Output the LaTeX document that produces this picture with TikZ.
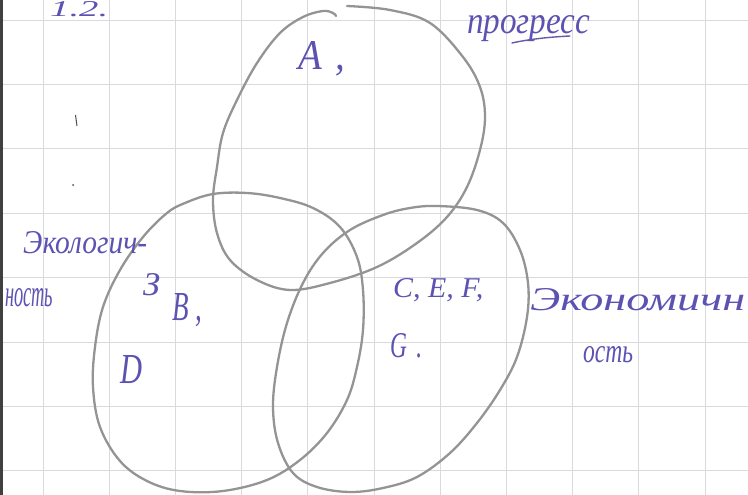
\documentclass[tikz,border=0pt]{standalone}
\usepackage{graphicx}
\usepackage{fontspec}
\setmainfont{Liberation Serif}
\definecolor{ink}{RGB}{92,82,178}
\definecolor{pencil}{RGB}{148,148,148}
\definecolor{gridc}{RGB}{218,218,222}
\newcommand{\ink}[3]{\resizebox{#1pt}{#2pt}{\itshape #3}}
\tikzset{
  hand/.style={anchor=base west, inner sep=0pt, text=ink},
  setline/.style={draw=pencil, line width=2.3pt, line cap=round, line join=round},
  gridline/.style={draw=gridc, line width=0.8pt}
}
\begin{document}
\begin{tikzpicture}[x=1pt,y=-1pt]
\useasboundingbox (0,0) rectangle (748,495);
\fill[white] (0,0) rectangle (748,495);
% grid paper
\foreach \k in {0,...,10} {\draw[gridline] ({43+66.2*\k},0) -- ({43+66.2*\k},495);}
\foreach \k in {0,...,7} {\draw[gridline] (0,{20+64.4*\k}) -- (748,{20+64.4*\k});}
\draw[draw=black!75, line width=2.5pt] (1.5,0) -- (1.5,495);
% stray marks
\draw[black!70, line width=1pt] (75.5,115) -- (77,126);
\fill[black!70] (73,185) circle (1pt);
% top set (open hand-drawn curve)
\draw[setline] plot[smooth, tension=0.6] coordinates {
 (347,6) (390,10) (430,23) (463,57) (480,87) (485,117) (480,150) (467,187)
 (447,217) (417,243) (377,267) (330,283) (290,290) (257,280) (230,260)
 (217,233) (213,200) (217,167) (223,133) (237,100) (257,63) (280,33)
 (303,17) (323,11) (333,13) (336,16)};
% left set
\draw[setline] plot[smooth cycle, tension=0.6] coordinates {
 (213,194) (247,193) (280,198) (313,208) (340,227) (357,257) (363,290)
 (363,330) (357,367) (347,400) (327,433) (300,460) (267,480) (223,491)
 (180,491) (147,481) (120,461) (100,427) (93,387) (95,347) (103,307)
 (120,270) (143,237) (167,213) (185,203)};
% right set
\draw[setline] plot[smooth cycle, tension=0.6] coordinates {
 (437,206) (477,210) (503,223) (520,250) (528,283) (527,317) (517,357)
 (500,390) (477,423) (450,453) (417,477) (383,488) (350,492) (317,487)
 (293,473) (278,443) (273,407) (277,367) (287,323) (303,283) (323,253)
 (350,230) (383,215) (410,208)};
% handwritten labels
\node[hand] (num) at (50,17) {\ink{58}{15}{1.2.}};
\node[hand] (prog) at (467,34) {\ink{123}{18}{прогресс}};
\draw[ink!80!gray, line width=1.4pt, line cap=round] (512,43) .. controls (530,39) and (550,37) .. (570,36);
\node[hand] (a) at (298,70) {\ink{47}{28}{A\hspace{0.35em},}};
\node[hand] (ecol1) at (23,253) {\ink{124}{22}{Экологич-}};
\node[hand] (ecol2) at (5,306) {\ink{48}{18}{ность}};
\node[hand] (econ1) at (530,310) {\ink{215}{22}{Экономичн}};
\node[hand] (econ2) at (583,362) {\ink{50}{16}{ость}};
\node[hand] (ze) at (143,295) {\ink{17}{22}{З}};
\node[hand] (b) at (172,320) {\ink{30}{27}{B\hspace{0.25em},}};
\node[hand] (d) at (120,383) {\ink{22}{28}{D}};
\node[hand] (cef) at (393,297) {\ink{90}{19}{C, E, F,}};
\node[hand] (g) at (390,357) {\ink{32}{24}{G\hspace{0.4em}.}};
\end{tikzpicture}
\end{document}
